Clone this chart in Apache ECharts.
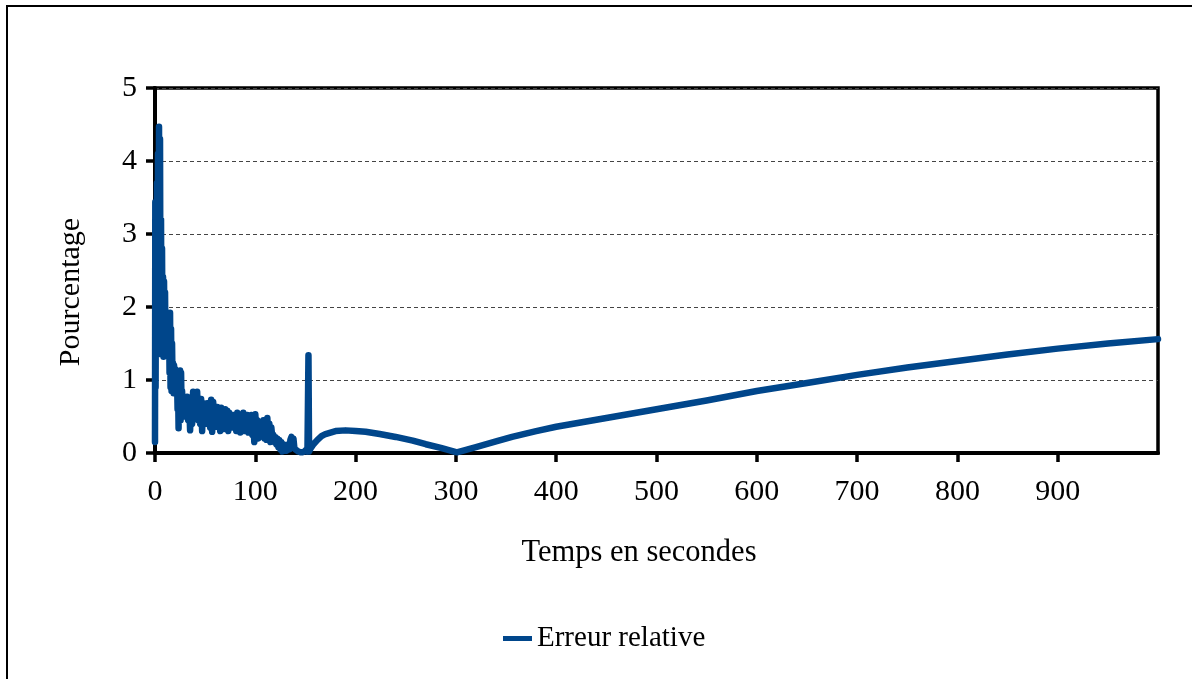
<!DOCTYPE html>
<html>
<head>
<meta charset="utf-8">
<script src="https://cdn.jsdelivr.net/npm/echarts@6/dist/echarts.min.js"></script>
<style>
html,body{margin:0;padding:0;background:#fff;}
#chart{width:1192px;height:679px;}
</style>
</head>
<body>
<div id="chart"></div>
<script>
// Time in seconds
const times = [
  0, 0.3, 0.6, 1, 1.5, 2, 2.5, 3, 3.5, 4, 4.5, 5, 5.5, 6, 6.5, 7, 7.5, 8, 8.5, 9, 9.5, 10,
  10.5, 11, 11.5, 12, 12.5, 13, 13.5, 14, 14.5, 15, 15.5, 16, 16.5, 17, 17.5, 18, 18.5, 19,
  19.5, 20, 20.5, 21, 21.5, 22, 22.5, 23, 23.5, 24, 24.5, 25, 25.5, 26, 26.5, 27, 27.5, 28,
  28.5, 29, 29.5, 30,
  31, 32, 33, 34, 35, 36, 37, 38, 39, 40, 41, 42, 43, 44, 45, 46, 47, 48, 49, 50,
  51, 52, 53, 54, 55, 56, 57, 58, 59, 60, 61, 62, 63, 64, 65, 66, 67, 68, 69, 70,
  71, 72, 73, 74, 75, 76, 77, 78, 79, 80, 81, 82, 83, 84, 85, 86, 87, 88, 89, 90,
  91, 92, 93, 94, 95, 96, 97, 98, 99, 100, 101, 102, 103, 104, 105, 106, 107, 108, 109, 110,
  111, 112, 113, 114, 115, 116, 117, 118, 119, 120, 121, 122, 123, 124, 125, 126, 127, 128, 129, 130,
  131, 132, 133, 134, 135, 136, 137, 138, 139, 140, 141, 142, 143, 144, 145, 146, 147, 148, 149, 150,
  151, 152, 153, 153.6, 155, 158, 162, 166, 170, 175, 180, 190, 200, 210, 224, 240, 257, 270, 285,
  301, 320, 340, 356, 380, 400, 450, 500, 550, 600, 650, 700, 750, 800, 850, 900, 950, 1000
];
// Relative error (%)
const errors = [
  0.15, 3.44, 0.9, 3.1, 1.6, 3.7, 1.9, 4.1, 2.2, 4.47, 1.8, 4.3, 1.5, 3.2, 1.35, 2.8, 1.4, 2.41, 1.32, 2.35, 1.4, 2.2,
  1.35, 1.9, 1.4, 1.92, 1.45, 1.85, 1.4, 1.9, 1.1, 1.92, 0.9, 1.7, 0.85, 1.5, 0.95, 1.23, 0.82, 1.2,
  0.9, 1.15, 0.85, 1.1, 0.9, 1.0, 0.6, 0.95, 0.34, 0.9, 0.5, 1.13, 0.45, 1.1, 0.6, 0.85, 0.55, 0.77,
  0.5, 0.75, 0.55, 0.7,
  0.55, 0.77, 0.45, 0.7, 0.31, 0.75, 0.4, 0.84, 0.5, 0.8, 0.55, 0.84, 0.45, 0.7, 0.4, 0.74, 0.3, 0.68, 0.45, 0.65,
  0.4, 0.68, 0.45, 0.6, 0.35, 0.73, 0.29, 0.7, 0.4, 0.6, 0.36, 0.63, 0.38, 0.6, 0.3, 0.62, 0.4, 0.6, 0.33, 0.6,
  0.37, 0.58, 0.3, 0.55, 0.4, 0.5, 0.35, 0.52, 0.38, 0.48, 0.3, 0.55, 0.4, 0.5, 0.28, 0.48, 0.35, 0.55, 0.3, 0.5,
  0.36, 0.52, 0.28, 0.5, 0.35, 0.52, 0.25, 0.45, 0.15, 0.53, 0.3, 0.45, 0.2, 0.4, 0.25, 0.38, 0.3, 0.45, 0.2, 0.42,
  0.18, 0.48, 0.2, 0.4, 0.15, 0.35, 0.2, 0.25, 0.15, 0.22, 0.12, 0.2, 0.08, 0.18, 0.05, 0.15, 0.02, 0.12, 0.05, 0.1,
  0.03, 0.08, 0.12, 0.05, 0.18, 0.22, 0.1, 0.2, 0.06, 0.08, 0.04, 0.06, 0.02, 0.03, 0.01, 0.0, 0.01, 0.0, 0.02, 0.03,
  0.05, 0.02, 1.34, 0.02, 0.06, 0.12, 0.18, 0.23, 0.26, 0.28, 0.3, 0.31, 0.3, 0.29, 0.26, 0.22, 0.17, 0.12, 0.07,
  0.01, 0.08, 0.16, 0.22, 0.3, 0.36, 0.48, 0.6, 0.72, 0.85, 0.96, 1.07, 1.17, 1.26, 1.35, 1.43, 1.5, 1.56
];
const xTickValues = [0, 100, 200, 300, 400, 500, 600, 700, 800, 900];
const seriesName = 'Erreur relative';
const xAxisTitle = 'Temps en secondes';
const yAxisTitle = 'Pourcentage';

const points = times.map((t, i) => [t, errors[i]]);
const FONT = 'Liberation Serif';
const chart = echarts.init(document.getElementById('chart'), null, {renderer: 'canvas'});
chart.setOption({
  animation: false,
  backgroundColor: '#fff',
  grid: {left: 155, right: 34, top: 88, bottom: 226, show: true, borderColor: '#000', borderWidth: 3.5, containLabel: false},
  xAxis: {
    type: 'value', min: 0, max: 1000, interval: 100,
    axisLine: {show: true, onZero: false, lineStyle: {color: '#000', width: 4}},
    axisTick: {show: true, length: 9, inside: false, customValues: xTickValues, lineStyle: {color: '#000', width: 3.5}},
    axisLabel: {customValues: xTickValues, margin: 24, color: '#000', fontFamily: FONT, fontSize: 30},
    splitLine: {show: false}
  },
  yAxis: {
    type: 'value', min: 0, max: 5, interval: 1,
    axisLine: {show: true, lineStyle: {color: '#000', width: 4}},
    axisTick: {show: true, length: 9, inside: false, lineStyle: {color: '#000', width: 3.5}},
    axisLabel: {margin: 18, color: '#000', fontFamily: FONT, fontSize: 30},
    splitLine: {show: true, lineStyle: {color: '#444', width: 1, type: [4, 3]}}
  },
  legend: {
    data: [seriesName], left: 503, top: 624, padding: 0, icon: 'rect', itemWidth: 29, itemHeight: 5,
    textStyle: {color: '#000', fontFamily: FONT, fontSize: 29}
  },
  graphic: [
    {type: 'rect', shape: {x: 7, y: 6, width: 1400, height: 900}, style: {fill: 'none', stroke: '#000', lineWidth: 2}, silent: true},
    {type: 'text', x: 639, y: 553, style: {text: xAxisTitle, font: '30.5px "Liberation Serif"', fill: '#000', align: 'center', verticalAlign: 'middle'}},
    {type: 'text', x: 71, y: 292, rotation: Math.PI / 2, style: {text: yAxisTitle, font: '30px "Liberation Serif"', fill: '#000', align: 'center', verticalAlign: 'middle'}}
  ],
  series: [{
    name: seriesName, type: 'line', data: points, showSymbol: false, symbol: 'none',
    color: '#00468B',
    lineStyle: {color: '#00468B', width: 6.5, cap: 'round', join: 'round'},
    clip: true
  }]
});
</script>
</body>
</html>
